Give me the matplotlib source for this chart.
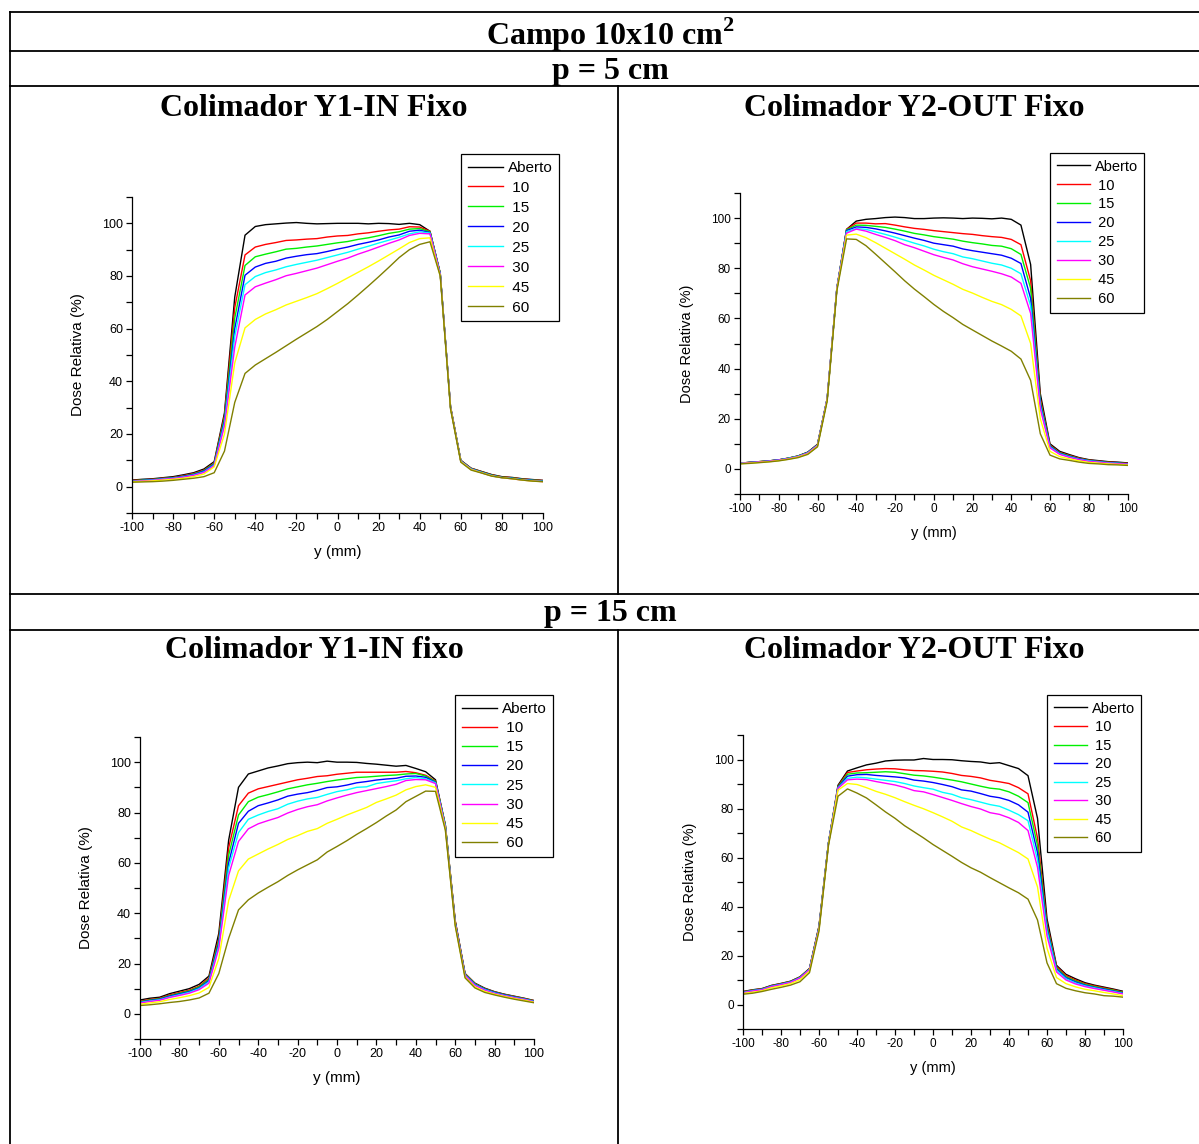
import matplotlib
matplotlib.use('Agg')
import matplotlib.pyplot as plt
from matplotlib.ticker import MultipleLocator

W, H = 1199, 1144

plt.rcParams['font.family'] = ['Liberation Sans', 'DejaVu Sans']
plt.rcParams['axes.unicode_minus'] = False
plt.rcParams['mathtext.fontset'] = 'custom'
plt.rcParams['mathtext.rm'] = 'Liberation Serif:bold'
plt.rcParams['mathtext.bf'] = 'Liberation Serif:bold'

# posicao (mm), passo de 5 mm
y_mm = list(range(-100, 101, 5))

labels = ['Aberto', ' 10', ' 15', ' 20', ' 25', ' 30', ' 45', ' 60']
colors = ['#000000', '#ff0000', '#00f000', '#0000ff', '#00ffff', '#ff00ff', '#ffff00', '#808000']

# p = 5 cm, colimador Y1-IN fixo
p5_in_aberto = [2.5, 2.8, 3.0, 3.4, 3.8, 4.5, 5.3, 6.7, 9.5, 28, 72, 95.5, 98.8, 99.5, 99.8, 100.1, 100.3, 100.0, 99.8, 99.9, 100, 100, 100, 99.8, 100, 99.9, 99.6, 100, 99.5, 97, 81, 30.5, 10, 7, 5.8, 4.6, 3.8, 3.5, 3.0, 2.7, 2.4]
p5_in_10 = [2.3, 2.6, 2.8, 3.2, 3.5, 4.2, 5.0, 6.3, 9.0, 27, 68, 88, 91, 92, 92.7, 93.5, 93.7, 94, 94.2, 94.8, 95.2, 95.4, 96, 96.4, 97, 97.5, 97.8, 98.7, 98.6, 97, 81, 30.3, 10, 7, 5.7, 4.5, 3.7, 3.4, 2.9, 2.6, 2.3]
p5_in_15 = [2.2, 2.5, 2.7, 3.1, 3.4, 4.0, 4.8, 6.1, 8.8, 26, 64, 84, 87.3, 88.3, 89.2, 90.2, 90.5, 91, 91.4, 92, 92.6, 93.1, 93.9, 94.5, 95.3, 96.2, 96.8, 97.8, 98, 96.8, 81, 30.2, 9.9, 6.9, 5.6, 4.4, 3.6, 3.3, 2.8, 2.5, 2.2]
p5_in_20 = [2.1, 2.4, 2.6, 3.0, 3.3, 3.9, 4.6, 5.9, 8.5, 25, 60, 80.3, 83.4, 84.8, 85.6, 86.8, 87.5, 88.1, 88.5, 89.3, 90.2, 91, 92, 92.8, 93.7, 94.8, 95.6, 97, 97.4, 96.5, 80.8, 30.1, 9.8, 6.8, 5.5, 4.3, 3.5, 3.2, 2.7, 2.4, 2.1]
p5_in_25 = [2.0, 2.3, 2.5, 2.9, 3.2, 3.7, 4.4, 5.6, 8.2, 24, 57, 76.7, 79.8, 81.3, 82.3, 83.5, 84.4, 85.2, 86, 87, 88, 89, 90.2, 91.3, 92.5, 93.6, 94.7, 96, 96.8, 96.3, 80.6, 30, 9.7, 6.7, 5.4, 4.2, 3.4, 3.1, 2.6, 2.3, 2.0]
p5_in_30 = [2.0, 2.2, 2.4, 2.8, 3.1, 3.6, 4.3, 5.4, 8.0, 23, 53, 72.8, 75.9, 77.3, 78.6, 80.1, 81, 82, 83, 84.3, 85.6, 86.8, 88.3, 89.6, 91, 92.4, 93.7, 95.4, 96.2, 96, 80.5, 30, 9.6, 6.6, 5.3, 4.1, 3.4, 3.0, 2.5, 2.2, 1.9]
p5_in_45 = [1.9, 2.0, 2.2, 2.5, 2.8, 3.2, 3.8, 4.8, 7.5, 20, 47, 60.3, 63.5, 65.6, 67.2, 69, 70.4, 71.8, 73.3, 75.2, 77.2, 79.3, 81.4, 83.5, 85.7, 88, 90.3, 92.7, 94.2, 94.5, 80, 29.8, 9.5, 6.5, 5.3, 4.1, 3.4, 3.0, 2.5, 2.1, 1.9]
p5_in_60 = [1.7, 1.8, 1.9, 2.1, 2.4, 2.8, 3.2, 3.8, 5.3, 13.5, 32, 43, 46.2, 48.6, 51, 53.5, 56, 58.4, 60.8, 63.5, 66.5, 69.5, 72.8, 76.2, 79.7, 83.3, 87, 90, 92, 93, 80, 29.5, 9.3, 6.3, 5.2, 4.0, 3.4, 3.0, 2.5, 2.1, 1.9]

# p = 5 cm, colimador Y2-OUT fixo
p5_out_aberto = [2.3, 2.6, 2.9, 3.2, 3.6, 4.3, 5.2, 6.7, 9.8, 28, 72, 95.5, 98.8, 99.5, 99.8, 100.2, 100.4, 100.2, 99.8, 99.8, 100, 100.1, 100, 99.8, 100, 99.9, 99.7, 100, 99.5, 97.2, 81.5, 30, 10, 7, 5.7, 4.5, 3.7, 3.3, 2.9, 2.7, 2.4]
p5_out_10 = [2.3, 2.6, 2.9, 3.2, 3.6, 4.3, 5.1, 6.6, 9.7, 28, 72, 95.5, 98, 98, 97.7, 97.8, 97.2, 96.5, 95.9, 95.5, 95, 94.6, 94.2, 93.8, 93.5, 93.0, 92.6, 92.3, 91.5, 89.4, 75, 28, 9.5, 6.6, 5.4, 4.3, 3.5, 3.1, 2.7, 2.5, 2.2]
p5_out_15 = [2.3, 2.6, 2.9, 3.2, 3.6, 4.3, 5.1, 6.6, 9.6, 28, 72, 95.3, 97.2, 97.1, 96.7, 96.3, 95.6, 94.8, 93.9, 93.3, 92.6, 92.1, 91.6, 90.8, 90.2, 89.7, 89.1, 88.8, 87.8, 85.5, 72, 27, 9.2, 6.4, 5.2, 4.1, 3.4, 3.0, 2.6, 2.4, 2.1]
p5_out_20 = [2.3, 2.6, 2.8, 3.2, 3.6, 4.2, 5.0, 6.5, 9.5, 28, 72, 95, 96.5, 96.3, 95.7, 94.9, 94, 93, 92, 91.1, 90, 89.4, 88.8, 87.7, 87, 86.4, 85.8, 85.2, 84, 81.9, 68, 26, 9.0, 6.2, 5.0, 4.0, 3.3, 2.9, 2.5, 2.3, 2.0]
p5_out_25 = [2.3, 2.5, 2.8, 3.1, 3.5, 4.2, 5.0, 6.4, 9.4, 28, 72, 94.6, 95.8, 95.5, 94.5, 93.5, 92.4, 91.2, 90, 88.9, 87.6, 86.6, 85.8, 84.5, 83.8, 82.9, 82, 81.3, 80, 77.8, 65, 25, 8.7, 6.0, 4.8, 3.8, 3.2, 2.8, 2.4, 2.2, 1.9]
p5_out_30 = [2.2, 2.5, 2.8, 3.1, 3.5, 4.1, 4.9, 6.3, 9.3, 28, 72, 94, 95.6, 94.8, 93.5, 92.3, 91, 89.4, 88.2, 86.8, 85.4, 84.3, 83.3, 81.8, 80.6, 79.7, 78.8, 77.8, 76.5, 74, 62, 24, 8.4, 5.8, 4.6, 3.7, 3.0, 2.7, 2.3, 2.1, 1.9]
p5_out_45 = [2.1, 2.3, 2.6, 2.9, 3.3, 3.9, 4.7, 6.0, 9.0, 27.5, 71.5, 93.2, 93.6, 92.2, 90.2, 88, 85.8, 83.6, 81.3, 79.3, 77.2, 75.4, 73.6, 71.6, 70.1, 68.4, 66.8, 65.5, 63.6, 61, 50, 20, 7, 4.9, 4.0, 3.2, 2.6, 2.3, 2.0, 1.8, 1.6]
p5_out_60 = [2.0, 2.2, 2.5, 2.8, 3.2, 3.8, 4.5, 5.8, 8.8, 27, 71, 91.7, 91.5, 89, 85.6, 82.1, 78.6, 75, 71.7, 68.7, 65.6, 62.8, 60.3, 57.6, 55.4, 53.2, 51, 49, 46.9, 43.8, 35.3, 14, 5.5, 4.0, 3.4, 2.7, 2.2, 2.0, 1.7, 1.6, 1.4]

# p = 15 cm, colimador Y1-IN fixo
p15_in_aberto = [5.5, 6.2, 6.6, 8.0, 9.0, 10.0, 11.7, 15, 32, 69, 90, 95.3, 96.5, 97.7, 98.5, 99.4, 99.8, 100, 99.8, 100.4, 100, 100, 99.9, 99.5, 99.2, 98.8, 98.4, 98.7, 97.5, 96.2, 93, 75, 37, 16, 12.2, 10.2, 8.8, 7.8, 7.0, 6.2, 5.3]
p15_in_10 = [5.0, 5.7, 6.2, 7.5, 8.5, 9.4, 11.0, 14.2, 30, 66, 82.7, 87.7, 89.4, 90.3, 91.2, 92.1, 93, 93.6, 94.3, 94.6, 95.2, 95.6, 96, 96, 96, 96, 96, 96.3, 95.8, 94.8, 92.5, 75, 37, 16, 12, 10, 8.7, 7.7, 6.9, 6.1, 5.2]
p15_in_15 = [4.8, 5.5, 6.0, 7.2, 8.2, 9.1, 10.7, 13.7, 29, 63, 79, 84.3, 86.1, 87.1, 88.2, 89.4, 90.2, 91, 91.6, 92.3, 92.9, 93.4, 93.9, 94.1, 94.4, 94.7, 94.9, 95.3, 95.5, 94.5, 92.3, 75, 36.5, 15.8, 11.9, 9.9, 8.6, 7.6, 6.8, 6.0, 5.1]
p15_in_20 = [4.6, 5.3, 5.8, 7.0, 7.9, 8.8, 10.3, 13.2, 28, 60, 75.7, 80.5, 82.7, 83.8, 85, 86.5, 87.3, 87.9, 88.8, 89.9, 90.2, 90.9, 91.8, 92.3, 92.9, 93.3, 93.6, 94.4, 94.5, 94, 92, 74.5, 36.3, 15.6, 11.7, 9.8, 8.5, 7.5, 6.7, 5.9, 5.0]
p15_in_25 = [4.5, 5.1, 5.6, 6.7, 7.6, 8.5, 10.0, 12.7, 27, 58, 72, 77.3, 79, 80.4, 81.5, 83.3, 84.5, 85.4, 86, 87.2, 88.3, 89, 90, 90.2, 91.5, 92.1, 92.6, 93.4, 93.9, 93.4, 91.8, 74.3, 36, 15.4, 11.5, 9.6, 8.3, 7.3, 6.5, 5.8, 4.9]
p15_in_30 = [4.3, 4.9, 5.4, 6.5, 7.3, 8.2, 9.6, 12.2, 26, 55, 68.5, 73.5, 75.5, 76.8, 78, 79.8, 81.2, 82.3, 83.1, 84.6, 85.8, 86.9, 87.9, 88.7, 89.5, 90.3, 91.2, 92.7, 93.1, 93, 91.5, 74, 35.8, 15.2, 11.3, 9.4, 8.1, 7.2, 6.4, 5.7, 4.8]
p15_in_45 = [3.8, 4.3, 4.8, 5.7, 6.4, 7.2, 8.3, 10.5, 22, 45, 56.8, 61.5, 63.5, 65.5, 67.3, 69.3, 70.8, 72.5, 73.6, 75.7, 77.3, 79, 80.5, 82, 84, 85.4, 86.9, 89, 90.3, 91, 90, 73.5, 35.3, 14.6, 10.7, 8.9, 7.8, 6.9, 6.1, 5.4, 4.6]
p15_in_60 = [3.3, 3.6, 4.0, 4.5, 4.9, 5.5, 6.3, 8.2, 16, 30, 41.3, 45.3, 48, 50.3, 52.5, 55, 57.2, 59.2, 61.2, 64.3, 66.5, 68.8, 71.3, 73.6, 76, 78.6, 81, 84.3, 86.4, 88.5, 88.4, 73, 35, 14.3, 10.3, 8.5, 7.5, 6.6, 5.8, 5.1, 4.4]

# p = 15 cm, colimador Y2-OUT fixo
p15_out_aberto = [5.3, 6.0, 6.5, 7.8, 8.6, 9.5, 11.3, 14.7, 32, 66, 89.5, 95.3, 96.6, 97.8, 98.5, 99.4, 99.7, 99.8, 99.8, 100.4, 100, 100, 99.9, 99.5, 99.2, 99, 98.4, 98.7, 97.5, 96.3, 93.4, 76, 35, 16, 12.3, 10.5, 8.9, 7.9, 7.1, 6.3, 5.4]
p15_out_10 = [5.2, 5.9, 6.4, 7.7, 8.5, 9.4, 11.2, 14.6, 31.8, 66, 89, 94.7, 95.3, 95.8, 96.1, 96.3, 96.2, 95.8, 95.5, 95.4, 95.2, 94.9, 94.3, 93.5, 93.1, 92.5, 91.5, 90.9, 90.2, 88.5, 86, 68, 33, 15.5, 11.8, 10.0, 8.5, 7.6, 6.8, 6.0, 5.1]
p15_out_15 = [5.1, 5.8, 6.3, 7.6, 8.4, 9.3, 11.1, 14.5, 31.6, 66, 88.8, 94, 94.5, 94.6, 94.8, 95, 94.8, 94.2, 93.6, 93.3, 92.8, 92.2, 91.6, 90.9, 90, 89.1, 88.3, 87.9, 86.8, 85, 82.4, 65, 32, 15, 11.3, 9.6, 8.2, 7.3, 6.5, 5.8, 4.9]
p15_out_20 = [5.0, 5.7, 6.2, 7.5, 8.3, 9.2, 11.0, 14.4, 31.4, 66, 88.6, 93.2, 93.8, 93.9, 93.5, 93.2, 92.9, 92.5, 91.6, 91.2, 90.6, 89.8, 88.9, 87.6, 87.1, 86.1, 85, 84.4, 83.3, 81.5, 78.5, 62, 31, 14.5, 10.9, 9.2, 7.9, 7.0, 6.3, 5.5, 4.7]
p15_out_25 = [4.9, 5.6, 6.1, 7.4, 8.2, 9.1, 10.9, 14.3, 31.2, 65.8, 88.4, 92.3, 92.8, 92.5, 92, 91.5, 91, 90.2, 89.2, 88.5, 87.9, 86.6, 85.8, 84.4, 83.6, 82.6, 81.6, 80.9, 79.3, 77.5, 75, 59, 30, 14, 10.5, 8.8, 7.6, 6.8, 6.0, 5.3, 4.5]
p15_out_30 = [4.8, 5.5, 6.0, 7.3, 8.1, 9.0, 10.8, 14.2, 31, 65.6, 88.2, 91.7, 92, 91.8, 91, 90.3, 89.6, 88.6, 87.3, 86.8, 85.7, 84.5, 83.3, 82, 80.8, 79.8, 78.3, 77.6, 76.2, 74.3, 71, 56, 28, 13.3, 10.0, 8.4, 7.3, 6.5, 5.8, 5.1, 4.3]
p15_out_45 = [4.5, 5.0, 5.6, 6.8, 7.6, 8.5, 10.1, 13.6, 30.5, 65.3, 87.5, 90.2, 89.8, 88.5, 87, 85.8, 84.4, 82.8, 81.3, 79.9, 78.3, 76.6, 74.8, 72.5, 71, 69.2, 67.5, 66, 64, 62, 59.4, 48, 23, 11, 8.5, 7.2, 6.2, 5.6, 4.9, 4.3, 3.6]
p15_out_60 = [4.2, 4.6, 5.3, 6.2, 7.0, 7.9, 9.3, 13, 30, 65, 85, 88, 86.3, 84.3, 81.5, 78.6, 76, 73, 70.5, 68, 65.3, 62.9, 60.5, 58, 55.8, 54, 51.8, 49.7, 47.6, 45.6, 43, 34.5, 17, 8.5, 6.6, 5.6, 4.8, 4.3, 3.6, 3.4, 3.0]

p5_in = [p5_in_aberto, p5_in_10, p5_in_15, p5_in_20, p5_in_25, p5_in_30, p5_in_45, p5_in_60]
p5_out = [p5_out_aberto, p5_out_10, p5_out_15, p5_out_20, p5_out_25, p5_out_30, p5_out_45, p5_out_60]
p15_in = [p15_in_aberto, p15_in_10, p15_in_15, p15_in_20, p15_in_25, p15_in_30, p15_in_45, p15_in_60]
p15_out = [p15_out_aberto, p15_out_10, p15_out_15, p15_out_20, p15_out_25, p15_out_30, p15_out_45, p15_out_60]


def px_rect(left, top, right, bottom):
    return [left / W, 1 - bottom / H, (right - left) / W, (bottom - top) / H]


def draw_panel(fig, rect, series, leg_xy, tick_fs, label_fs, spacing):
    ax = fig.add_axes(px_rect(*rect))
    for vals, lab, c in zip(series, labels, colors):
        ax.plot(y_mm, vals, color=c, lw=1.0, label=lab)
    ax.set_xlim(-100, 100)
    ax.set_ylim(-10, 110)
    ax.xaxis.set_major_locator(MultipleLocator(20))
    ax.xaxis.set_minor_locator(MultipleLocator(10))
    ax.yaxis.set_major_locator(MultipleLocator(20))
    ax.yaxis.set_minor_locator(MultipleLocator(10))
    ax.set_yticks([0, 20, 40, 60, 80, 100])
    ax.spines['top'].set_visible(False)
    ax.spines['right'].set_visible(False)
    for s in ('left', 'bottom'):
        ax.spines[s].set_linewidth(0.9)
    ax.tick_params(which='major', direction='out', length=4, width=0.9, labelsize=tick_fs, pad=2.5)
    ax.tick_params(which='minor', direction='out', length=4, width=0.9)
    ax.set_xlabel('y (mm)', fontsize=label_fs, labelpad=8)
    ax.set_ylabel('Dose Relativa (%)', fontsize=label_fs, labelpad=12)
    leg = ax.legend(loc='upper left', bbox_to_anchor=(leg_xy[0] / W, 1 - leg_xy[1] / H),
                    bbox_transform=fig.transFigure, borderaxespad=0, fontsize=label_fs,
                    fancybox=False, framealpha=1, edgecolor='black', handlelength=2.3,
                    handletextpad=0.3, labelspacing=spacing, borderpad=0.45)
    leg.get_frame().set_linewidth(0.9)
    return ax


fig = plt.figure(figsize=(W / 100, H / 100), dpi=100)

# grade da tabela
bg = fig.add_axes([0, 0, 1, 1], zorder=-1)
bg.set_xlim(0, W)
bg.set_ylim(H, 0)
bg.axis('off')
for yy in (12, 51, 86, 594, 630):
    bg.plot([10, W], [yy, yy], color='black', lw=1.3)
bg.plot([10, 10], [12, H], color='black', lw=1.3)
bg.plot([618, 618], [86, 594], color='black', lw=1.3)
bg.plot([618, 618], [630, H], color='black', lw=1.3)

tfont = dict(family='Liberation Serif', weight='bold', size=23, ha='center', va='center')
bg.text(610, 35, r'Campo 10x10 cm$^\mathbf{2}$', **tfont)
bg.text(610, 71, 'p = 5 cm', **tfont)
bg.text(314, 108, 'Colimador Y1-IN Fixo', **tfont)
bg.text(914, 108, 'Colimador Y2-OUT Fixo', **tfont)
bg.text(610, 614, 'p = 15 cm', **tfont)
bg.text(314, 651, 'Colimador Y1-IN fixo', **tfont)
bg.text(914, 651, 'Colimador Y2-OUT Fixo', **tfont)

draw_panel(fig, (132, 197, 543, 513), p5_in, (461, 154), 9, 11, 0.39)
draw_panel(fig, (740, 193, 1127.5, 494), p5_out, (1050, 153), 8.5, 10.5, 0.34)
draw_panel(fig, (140, 737, 534, 1039), p15_in, (455, 695), 9, 11, 0.34)
draw_panel(fig, (743, 735, 1123, 1029), p15_out, (1047, 695), 8.5, 10.5, 0.31)

fig.savefig('out.png', dpi=100)
